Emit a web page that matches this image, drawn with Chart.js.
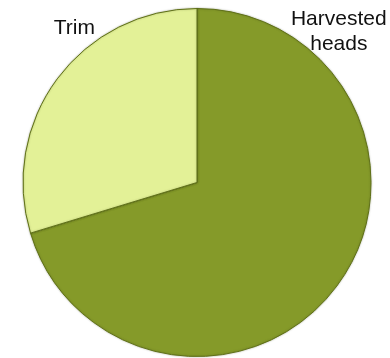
<!DOCTYPE html>
<html>
<head>
<meta charset="utf-8">
<script src="https://cdn.jsdelivr.net/npm/chart.js@4/dist/chart.umd.min.js"></script>
<style>
  html, body { margin: 0; padding: 0; background: #ffffff; }
  #wrap { width: 390px; height: 358px; }
</style>
</head>
<body>
<div id="wrap"><canvas id="pie" width="390" height="358"></canvas></div>
<script>
// Share of the crop: harvested heads vs. trim left in the field
const categories = ['Harvested heads', 'Trim'];
const shares = [70.3, 29.7];
const sliceColors = ['#859a29', '#e3f197'];
const labelLines = [['Harvested', 'heads'], ['Trim']];

// Label anchors expressed relative to the pie centre, in units of its radius
const labelAnchors = [
  { fx: 0.815, fy: -0.908 },
  { fx: -0.705, fy: -0.854 }
];

const outsideLabels = {
  id: 'outsideLabels',
  afterDatasetsDraw(chart) {
    const meta = chart.getDatasetMeta(0);
    const arc = meta.data[0];
    if (!arc) return;
    const { x, y, outerRadius } = arc.getProps(['x', 'y', 'outerRadius'], true);
    const ctx = chart.ctx;
    ctx.save();
    ctx.fillStyle = '#111111';
    ctx.font = '21px "Liberation Sans", Arial, sans-serif';
    ctx.textAlign = 'center';
    ctx.textBaseline = 'alphabetic';
    labelLines.forEach((lines, i) => {
      const a = labelAnchors[i];
      const cx = x + a.fx * outerRadius;
      const cy = y + a.fy * outerRadius;
      lines.forEach((t, j) => ctx.fillText(t, cx, cy + j * 25));
    });
    ctx.restore();
  }
};

const softEdge = {
  id: 'softEdge',
  beforeDatasetsDraw(chart) {
    const ctx = chart.ctx;
    ctx.save();
    ctx.shadowColor = 'rgba(60,70,20,0.35)';
    ctx.shadowBlur = 2;
  },
  afterDatasetsDraw(chart) {
    chart.ctx.restore();
  }
};

new Chart(document.getElementById('pie'), {
  type: 'pie',
  data: {
    labels: categories,
    datasets: [{
      data: shares,
      backgroundColor: sliceColors,
      borderColor: '#5f7018',
      borderWidth: 1
    }]
  },
  options: {
    responsive: false,
    animation: false,
    layout: { padding: { left: 4, right: 0, top: 8, bottom: 1 } },
    plugins: {
      legend: { display: false },
      tooltip: { enabled: false }
    }
  },
  plugins: [softEdge, outsideLabels]
});
</script>
</body>
</html>
